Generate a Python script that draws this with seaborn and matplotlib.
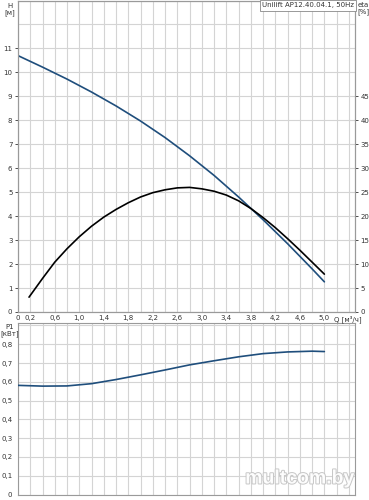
import numpy as np
import pandas as pd
import matplotlib
matplotlib.use("Agg")
import matplotlib.pyplot as plt
import matplotlib.patheffects as pe
import seaborn as sns

# ---- data ----
q_head = [0.0, 0.4, 0.8, 1.2, 1.6, 2.0, 2.4, 2.8, 3.2, 3.6, 4.0, 4.4, 4.8, 5.0]
head = [10.7, 10.22, 9.72, 9.18, 8.6, 7.97, 7.28, 6.52, 5.7, 4.8, 3.85, 2.85, 1.8, 1.26]

q_eta = [0.18, 0.4, 0.6, 0.8, 1.0, 1.2, 1.4, 1.6, 1.8, 2.0, 2.2, 2.4, 2.6, 2.8,
         3.0, 3.2, 3.4, 3.6, 3.8, 4.0, 4.2, 4.4, 4.6, 4.8, 5.0]
eta = [3.1, 7.0, 10.4, 13.2, 15.7, 17.9, 19.8, 21.4, 22.8, 24.0, 24.9, 25.5, 25.9, 26.0,
       25.7, 25.2, 24.4, 23.2, 21.6, 19.7, 17.6, 15.3, 12.9, 10.4, 7.9]

q_p1 = [0.0, 0.4, 0.8, 1.2, 1.6, 2.0, 2.4, 2.8, 3.2, 3.6, 4.0, 4.4, 4.8, 5.0]
p1 = [0.581, 0.577, 0.578, 0.59, 0.612, 0.637, 0.663, 0.69, 0.712, 0.733, 0.75, 0.759, 0.763, 0.761]

q_ticks = [0, 0.2, 0.6, 1.0, 1.4, 1.8, 2.2, 2.6, 3.0, 3.4, 3.8, 4.2, 4.6, 5.0]
q_tick_labels = ["0", "0,2", "0,6", "1,0", "1,4", "1,8", "2,2", "2,6", "3,0", "3,4", "3,8", "4,2", "4,6", "5,0"]
h_ticks = list(range(0, 12))
eta_ticks = list(range(0, 50, 5))
p1_ticks = [0, 0.1, 0.2, 0.3, 0.4, 0.5, 0.6, 0.7, 0.8]
p1_tick_labels = ["0", "0,1", "0,2", "0,3", "0,4", "0,5", "0,6", "0,7", "0,8"]

title = "Unilift AP12.40.04.1, 50Hz"

# ---- style ----
sns.set_theme(style="white")
plt.rcParams['font.family'] = ['DejaVu Sans']
BLUE = "#1f4e7c"
GRID = "#d4d4d4"
SPINE = "#9a9a9a"
TXT = "#333333"
FS = 5

W, H = 369, 500
fig = plt.figure(figsize=(W / 100, H / 100), dpi=100)
fig.patch.set_facecolor("white")

ax1 = fig.add_axes([18 / W, 1 - 312 / H, (355 - 18) / W, 311.5 / H])
ax2 = fig.add_axes([18 / W, 1 - 494.5 / H, (355 - 18) / W, (494.5 - 323) / H])
ax1b = ax1.twinx()

df_h = pd.DataFrame({"Q": q_head, "H": head})
df_e = pd.DataFrame({"Q": q_eta, "eta": eta})
df_p = pd.DataFrame({"Q": q_p1, "P1": p1})

sns.lineplot(data=df_h, x="Q", y="H", ax=ax1, color=BLUE, lw=1.2, zorder=5)
sns.lineplot(data=df_e, x="Q", y="eta", ax=ax1b, color="black", lw=1.2, zorder=5)
sns.lineplot(data=df_p, x="Q", y="P1", ax=ax2, color=BLUE, lw=1.2, zorder=5)

minor_x = np.arange(0, 5.5, 0.2)
for ax in (ax1, ax2):
    ax.set_xlim(0, 5.5)
    ax.set_xticks(minor_x, minor=True)
    ax.set_xlabel("")
    ax.set_ylabel("")
    for s in ax.spines.values():
        s.set_color(SPINE)
        s.set_linewidth(0.8)
    ax.grid(True, which="both", color=GRID, lw=0.8)
    ax.set_axisbelow(True)
    ax.tick_params(which="minor", length=0)
    ax.tick_params(which="major", labelsize=FS, colors=TXT, length=2.5, width=0.6, pad=1.5)

ax1.set_ylim(0, 13)
ax1.set_yticks(h_ticks)
ax1.set_yticks([12, 13], minor=True)
ax1.set_xticks(q_ticks)
ax1.set_xticklabels(q_tick_labels)
ax1.tick_params(axis="x", which="major", length=0, pad=2)

ax1b.set_ylim(0, 65)
ax1b.set_yticks(eta_ticks)
ax1b.set_ylabel("")
ax1b.grid(False)
ax1b.tick_params(labelsize=FS, colors=TXT, length=2.5, width=0.6, pad=1.5)
for s in ax1b.spines.values():
    s.set_color(SPINE)
    s.set_linewidth(0.8)

ax2.set_ylim(0, 0.913)
ax2.set_yticks(p1_ticks)
ax2.set_yticklabels(p1_tick_labels)
ax2.set_yticks([0.9], minor=True)
ax2.set_xticks(q_ticks)
ax2.tick_params(axis="x", which="major", labelbottom=False, length=0)

# ---- labels ----
fig.text(10 / W, 1 - 3 / H, "H\n[м]", fontsize=FS, color=TXT, ha="center", va="top", linespacing=1.1)
fig.text(363 / W, 1 - 2 / H, "eta\n[%]", fontsize=FS, color=TXT, ha="center", va="top", linespacing=1.1)
fig.text(10 / W, 1 - 324 / H, "P1\n[кВт]", fontsize=FS, color=TXT, ha="center", va="top", linespacing=1.1)
fig.text(334 / W, 1 - 319 / H, "Q [м³/ч]", fontsize=FS, color=TXT, ha="left", va="center")
fig.text(354 / W, 1 - 5.5 / H, title, fontsize=FS, color=TXT, ha="right", va="center",
         bbox=dict(boxstyle="square,pad=0.35", fc="white", ec="#888888", lw=0.6))

wm = fig.text(300 / W, 1 - 479 / H, "multcom.by", fontsize=14, color="white",
              family=["Liberation Sans", "DejaVu Sans"], weight="bold", ha="center", va="center",
              alpha=0.95)
wm.set_path_effects([pe.withStroke(linewidth=1.4, foreground="#c4c4c4")])

fig.savefig("out.png", dpi=100)
